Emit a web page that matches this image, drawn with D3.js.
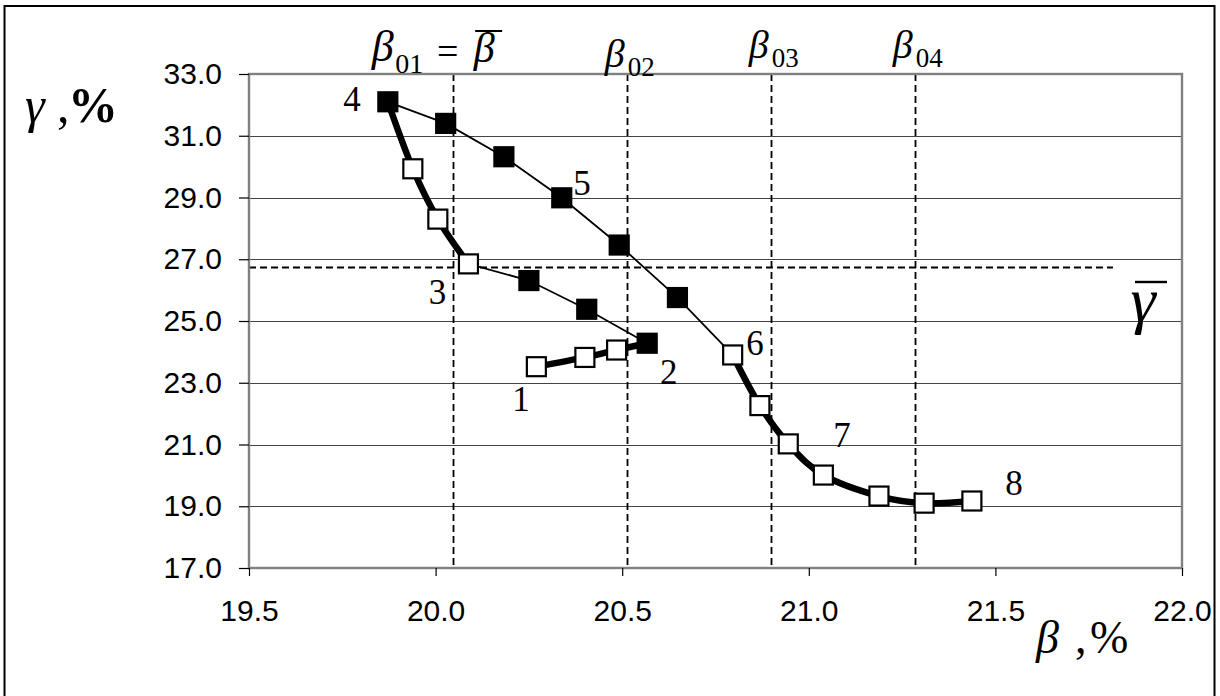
<!DOCTYPE html>
<html>
<head>
<meta charset="utf-8">
<script src="https://cdn.jsdelivr.net/npm/d3@7"></script>
<style>
  body { margin: 0; background: #fff; }
  svg { display: block; }
</style>
</head>
<body>
<svg id="chart" width="1220" height="696"></svg>
<script>
// Axis ticks
const xTicks = [19.5, 20.0, 20.5, 21.0, 21.5, 22.0];
const yTicks = [17, 19, 21, 23, 25, 27, 29, 31, 33];

// Trajectory sections, [β, γ] in %
const path12 = [[20.27, 23.52], [20.40, 23.82], [20.485, 24.06], [20.567, 24.28]];
const path23 = [[20.567, 24.28], [20.405, 25.38], [20.25, 26.31], [20.088, 26.85]];
const path34 = [[20.088, 26.85], [20.006, 28.30], [19.939, 29.93], [19.872, 32.10]];
const path46 = [[19.872, 32.10], [20.027, 31.40], [20.183, 30.32], [20.338, 28.99],
                [20.492, 27.46], [20.648, 25.76], [20.796, 23.90]];
const path68 = [[20.796, 23.90], [20.869, 22.26], [20.945, 21.02], [21.039, 20.01],
                [21.188, 19.33], [21.309, 19.10], [21.437, 19.17]];

// Marker kinds
const filledPts = [path12[3], path23[1], path23[2], path34[3], ...path46.slice(1, 6)];
const openPts = [...path12.slice(0, 3), ...path34.slice(0, 3), ...path68];

// Stage numbers and their anchor points [β, γ]
const stageNames = ["1", "2", "3", "4", "5", "6", "7", "8"];
const stageAnchors = [[20.229, 22.47], [20.625, 23.32], [20.005, 25.92], [19.776, 32.19],
                      [20.392, 29.47], [20.856, 24.26], [21.089, 21.29], [21.55, 19.75]];

// Reference levels
const betaRefs = [20.047, 20.512, 20.898, 21.284];
const betaRefNames = ["01", "02", "03", "04"];
const gammaMean = 26.74;
const gammaMeanEnd = 21.815;

const svg = d3.select("#chart");
const W = 1220, H = 696;
const m = { left: 249, top: 74, right: 38, bottom: 128 };
const x = d3.scaleLinear().domain([19.5, 22]).range([m.left, W - m.right]);
const y = d3.scaleLinear().domain([17, 33]).range([H - m.bottom, m.top]);

const serif = "'Liberation Serif', 'DejaVu Serif', serif";
const sans = "'Liberation Sans', Arial, sans-serif";

// outer frame
svg.append("rect")
  .attr("x", 4.5).attr("y", 6).attr("width", 1210).attr("height", 700)
  .attr("fill", "none").attr("stroke", "#000").attr("stroke-width", 2);

// horizontal gridlines
svg.append("g").selectAll("line")
  .data(yTicks.filter(d => d > 17 && d < 33))
  .join("line")
  .attr("x1", x(19.5)).attr("x2", x(22))
  .attr("y1", d => Math.round(y(d)) + 0.5).attr("y2", d => Math.round(y(d)) + 0.5)
  .attr("stroke", "#444").attr("stroke-width", 1.2);

// reference dashed lines
const dash = "7,4";
svg.append("g").selectAll("line")
  .data(betaRefs)
  .join("line")
  .attr("x1", d => Math.round(x(d)) + 0.5).attr("x2", d => Math.round(x(d)) + 0.5)
  .attr("y1", y(33)).attr("y2", y(17))
  .attr("stroke", "#000").attr("stroke-width", 1.8).attr("stroke-dasharray", dash);

svg.append("line")
  .attr("x1", x(19.5)).attr("x2", x(gammaMeanEnd))
  .attr("y1", Math.round(y(gammaMean)) + 0.5).attr("y2", Math.round(y(gammaMean)) + 0.5)
  .attr("stroke", "#000").attr("stroke-width", 1.8).attr("stroke-dasharray", dash);

// plot frame
svg.append("rect")
  .attr("x", x(19.5)).attr("y", y(33))
  .attr("width", x(22) - x(19.5)).attr("height", y(17) - y(33))
  .attr("fill", "none").attr("stroke", "#808080").attr("stroke-width", 2.4);

// axes
const yAxis = d3.axisLeft(y).tickValues(yTicks).tickFormat(d3.format(".1f"))
  .tickSize(10).tickPadding(17);
const xAxis = d3.axisBottom(x).tickValues(xTicks).tickFormat(d3.format(".1f"))
  .tickSize(8).tickPadding(24);

const gy = svg.append("g").attr("transform", `translate(${x(19.5)},0)`).call(yAxis);
const gx = svg.append("g").attr("transform", `translate(0,${y(17)})`).call(xAxis);
[gy, gx].forEach(g => {
  g.select(".domain").remove();
  g.selectAll(".tick line").attr("stroke", "#000").attr("stroke-width", 1.2);
  g.selectAll(".tick text").attr("fill", "#000")
    .style("font-family", sans).style("font-size", "30px");
});

// trajectory lines
const smooth = d3.line().x(d => x(d[0])).y(d => y(d[1])).curve(d3.curveCatmullRom.alpha(0));
const straight = d3.line().x(d => x(d[0])).y(d => y(d[1]));

[path23, path46].forEach(p => {
  svg.append("path").attr("d", straight(p))
    .attr("fill", "none").attr("stroke", "#000").attr("stroke-width", 1.8);
});
[path12, path34, path68].forEach(p => {
  svg.append("path").attr("d", smooth(p))
    .attr("fill", "none").attr("stroke", "#000").attr("stroke-width", 6.5)
    .attr("stroke-linejoin", "round");
});

// markers
const S = 19;
svg.append("g").selectAll("rect")
  .data(openPts)
  .join("rect")
  .attr("x", d => x(d[0]) - S / 2).attr("y", d => y(d[1]) - S / 2)
  .attr("width", S).attr("height", S)
  .attr("fill", "#fff").attr("stroke", "#000").attr("stroke-width", 2.2);
svg.append("g").selectAll("rect")
  .data(filledPts)
  .join("rect")
  .attr("x", d => x(d[0]) - S / 2).attr("y", d => y(d[1]) - S / 2)
  .attr("width", S).attr("height", S)
  .attr("fill", "#000").attr("stroke", "#000").attr("stroke-width", 2.2);

// stage numbers
svg.append("g").selectAll("text")
  .data(stageNames)
  .join("text")
  .attr("x", (d, i) => x(stageAnchors[i][0]))
  .attr("y", (d, i) => y(stageAnchors[i][1]))
  .attr("dy", "0.33em")
  .attr("text-anchor", "middle")
  .style("font-family", serif).style("font-size", "35px")
  .text(d => d);

// reference labels β01 … β04
const lab = svg.append("g").style("font-family", serif).attr("fill", "#000");
const bx0 = x(betaRefs[0]);
lab.append("text").attr("x", bx0 - 70.5).attr("y", 61).attr("text-anchor", "middle")
  .style("font-style", "italic").style("font-size", "44px").text("β");
lab.append("text").attr("x", bx0 - 58).attr("y", 73)
  .style("font-size", "28px").text(betaRefNames[0]);
lab.append("text").attr("x", bx0 - 5.5).attr("y", 64).attr("text-anchor", "middle")
  .style("font-size", "38px").text("=");
lab.append("text").attr("x", bx0 + 31).attr("y", 62).attr("text-anchor", "middle")
  .style("font-style", "italic").style("font-size", "42px").text("β");
lab.append("line").attr("x1", bx0 + 22).attr("x2", bx0 + 49).attr("y1", 31).attr("y2", 31)
  .attr("stroke", "#000").attr("stroke-width", 2);

const refBase = [null, 67, 58, 58];
betaRefs.forEach((b, i) => {
  if (i === 0) return;
  const bx = x(b);
  lab.append("text").attr("x", bx - 12).attr("y", refBase[i]).attr("text-anchor", "middle")
    .style("font-style", "italic").style("font-size", "40px").text("β");
  lab.append("text").attr("x", bx + 1).attr("y", refBase[i] + 9)
    .style("font-size", "27px").text(betaRefNames[i]);
});

// mean γ label
lab.append("text").attr("x", 1143).attr("y", 321).attr("text-anchor", "middle")
  .style("font-style", "italic").style("font-size", "64px").text("γ");
lab.append("line").attr("x1", 1135).attr("x2", 1167).attr("y1", 282).attr("y2", 282)
  .attr("stroke", "#000").attr("stroke-width", 2.4);

// axis titles
const yt = lab.append("text").attr("x", 25).attr("y", 122).style("font-size", "50px");
yt.append("tspan").style("font-style", "italic").text("γ");
yt.append("tspan").attr("x", 57).text(",");
yt.append("tspan").attr("x", 68).style("font-weight", "bold").text("%");

const xt = lab.append("text").attr("x", 1036).attr("y", 653).style("font-size", "46px");
xt.append("tspan").style("font-style", "italic").text("β");
xt.append("tspan").attr("x", 1075).text(",");
xt.append("tspan").attr("x", 1090).text("%");
</script>
</body>
</html>
